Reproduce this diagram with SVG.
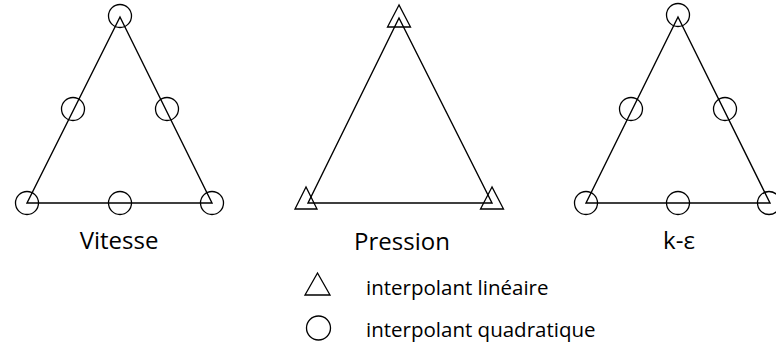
<svg xmlns="http://www.w3.org/2000/svg" width="776" height="355" viewBox="0 0 776 355">
<style>
.edge{fill:none;stroke:#000;stroke-width:1.4}
.node{fill:none;stroke:#000;stroke-width:1.3}
.lbl{font-family:"Open Sans","Noto Sans",sans-serif;font-size:24px;fill:#000;text-anchor:middle}
.leg{font-family:"Open Sans","Noto Sans",sans-serif;font-size:20.5px;fill:#000}
</style>
<rect width="776" height="355" fill="#fff"/>
<g id="connectors">
<polygon class="edge" points="120,17 27,203 212,203"/>
<polygon class="edge" points="399,18 308,203 492,203"/>
<polygon class="edge" points="678,17 586,203 770,203"/>
</g>
<g id="vitesse">
<circle class="node" cx="120" cy="16" r="11.5"/>
<circle class="node" cx="73" cy="109" r="11.5"/>
<circle class="node" cx="167" cy="109" r="11.5"/>
<circle class="node" cx="27" cy="203" r="11.5"/>
<circle class="node" cx="120" cy="203" r="11.5"/>
<circle class="node" cx="212" cy="203" r="11.5"/>
<text class="lbl" x="119" y="249">Vitesse</text>
</g>
<g id="pression">
<polygon class="node" points="399,5 387.5,27 410.5,27"/>
<polygon class="node" points="306,187 295,209 317,209"/>
<polygon class="node" points="492,187 480.5,209 503.5,209"/>
<text class="lbl" x="402" y="250">Pression</text>
</g>
<g id="k-epsilon">
<circle class="node" cx="678" cy="15" r="11.5"/>
<circle class="node" cx="631" cy="109" r="11.5"/>
<circle class="node" cx="725" cy="109" r="11.5"/>
<circle class="node" cx="586" cy="203" r="11.5"/>
<circle class="node" cx="678" cy="203" r="11.5"/>
<circle class="node" cx="769" cy="203" r="11.5"/>
<text class="lbl" x="679" y="249">k-ε</text>
</g>
<g id="legend">
<polygon class="node" points="317.5,273 305,295 330,295"/>
<text class="leg" x="366" y="295">interpolant linéaire</text>
<circle class="node" cx="318.5" cy="328" r="12"/>
<text class="leg" x="366" y="337">interpolant quadratique</text>
</g>
</svg>
